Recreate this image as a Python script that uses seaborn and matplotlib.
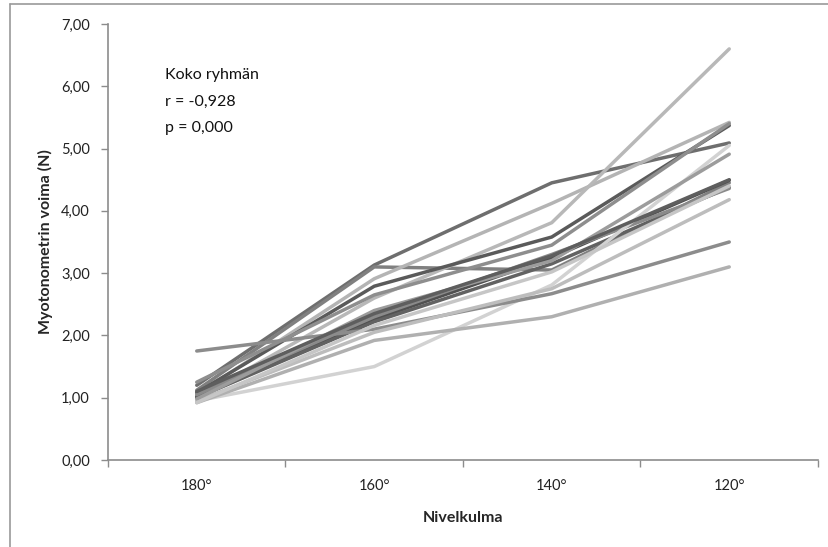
import matplotlib
matplotlib.use("Agg")
import matplotlib.pyplot as plt
from matplotlib.lines import Line2D
import seaborn as sns
import pandas as pd

# Joint angle categories
angles = ["180°", "160°", "140°", "120°"]

# Myotonometer force (N) per subject at each joint angle
s01 = [1.20, 3.13, 4.45, 5.09]
s02 = [1.12, 3.10, 3.05, 4.45]
s03 = [1.05, 2.91, 4.12, 5.42]
s04 = [1.00, 2.60, 3.81, 6.60]
s05 = [1.08, 2.79, 3.58, 5.37]
s06 = [1.02, 2.26, 3.25, 4.49]
s07 = [1.00, 2.22, 3.15, 4.38]
s08 = [1.05, 2.30, 3.30, 4.36]
s09 = [0.95, 1.50, 2.81, 5.05]
s10 = [1.75, 2.10, 2.67, 3.50]
s11 = [0.92, 1.92, 2.30, 3.10]
s12 = [0.95, 2.05, 2.75, 4.18]
s13 = [0.98, 2.40, 3.20, 4.91]
s14 = [1.25, 2.65, 3.45, 5.40]
s15 = [0.92, 2.16, 3.02, 4.40]
s16 = [1.10, 2.35, 3.28, 4.50]

subjects = [s01, s02, s03, s04, s05, s06, s07, s08,
            s09, s10, s11, s12, s13, s14, s15, s16]

# Gray shade per subject line
shades = ["#6e6e6e", "#808080", "#b4b4b4", "#b8b8b8", "#5a5a5a", "#505050",
          "#626262", "#8a8a8a", "#d2d2d2", "#8c8c8c", "#b0b0b0", "#bdbdbd",
          "#9c9c9c", "#8e8e8e", "#c6c6c6", "#5e5e5e"]

# Group statistics shown in the corner note
note_lines = ["Koko ryhmän", "r = -0,928", "p = 0,000"]

rows = []
for i, vals in enumerate(subjects):
    for a, v in zip(angles, vals):
        rows.append({"henkilö": f"H{i + 1}", "Nivelkulma": a, "voima": v})
df = pd.DataFrame(rows)

sns.set_theme(style="white")
plt.rcParams["font.family"] = ["Lato", "DejaVu Sans"]

fig = plt.figure(figsize=(8.29, 5.47), dpi=100)
ax = fig.add_axes([108 / 829, 1 - 460 / 547, 710 / 829, 436 / 547])

sns.lineplot(data=df, x="Nivelkulma", y="voima", hue="henkilö",
             palette=shades, linewidth=2.5, legend=False, ax=ax, sort=False)

ax.set_xlim(-0.5, 3.5)
ax.set_ylim(0, 7)

axis_gray = "#8c8c8c"
for side in ["top", "right"]:
    ax.spines[side].set_visible(False)
for side in ["left", "bottom"]:
    ax.spines[side].set_color(axis_gray)
    ax.spines[side].set_linewidth(1.2)

ax.set_yticks(range(0, 8))
ax.set_yticklabels([f"{v},00" for v in range(0, 8)], fontsize=10.5, color="#222222")
ax.tick_params(axis="y", direction="out", length=5, width=1, color=axis_gray,
               left=True, pad=8)

ax.set_xticks(range(len(angles)))
ax.set_xticklabels(angles, fontsize=10.5, color="#222222")
ax.set_xticks([-0.5, 0.5, 1.5, 2.5, 3.5], minor=True)
ax.tick_params(axis="x", which="major", length=0, pad=14)
ax.tick_params(axis="x", which="minor", direction="out", length=5, width=1,
               color=axis_gray, bottom=True)

ax.set_xlabel("Nivelkulma", fontsize=11.5, fontweight="bold", labelpad=13)
ax.set_ylabel("Myotonometrin voima (N)", fontsize=11.5, fontweight="bold",
              labelpad=6)

for k, line in enumerate(note_lines):
    ax.text(0.08, 0.883 - 0.061 * k, line, transform=ax.transAxes,
            fontsize=11.5, va="center", ha="left", color="#111111")

# Outer frame of the chart area
frame_color = "#9a9a9a"
fig.add_artist(Line2D([10 / 829, 10 / 829], [0, 1 - 4 / 547],
                      transform=fig.transFigure, color=frame_color, lw=1.2))
fig.add_artist(Line2D([10 / 829, 1], [1 - 4 / 547, 1 - 4 / 547],
                      transform=fig.transFigure, color=frame_color, lw=1.2))

fig.savefig("out.png", dpi=100, facecolor="white")
